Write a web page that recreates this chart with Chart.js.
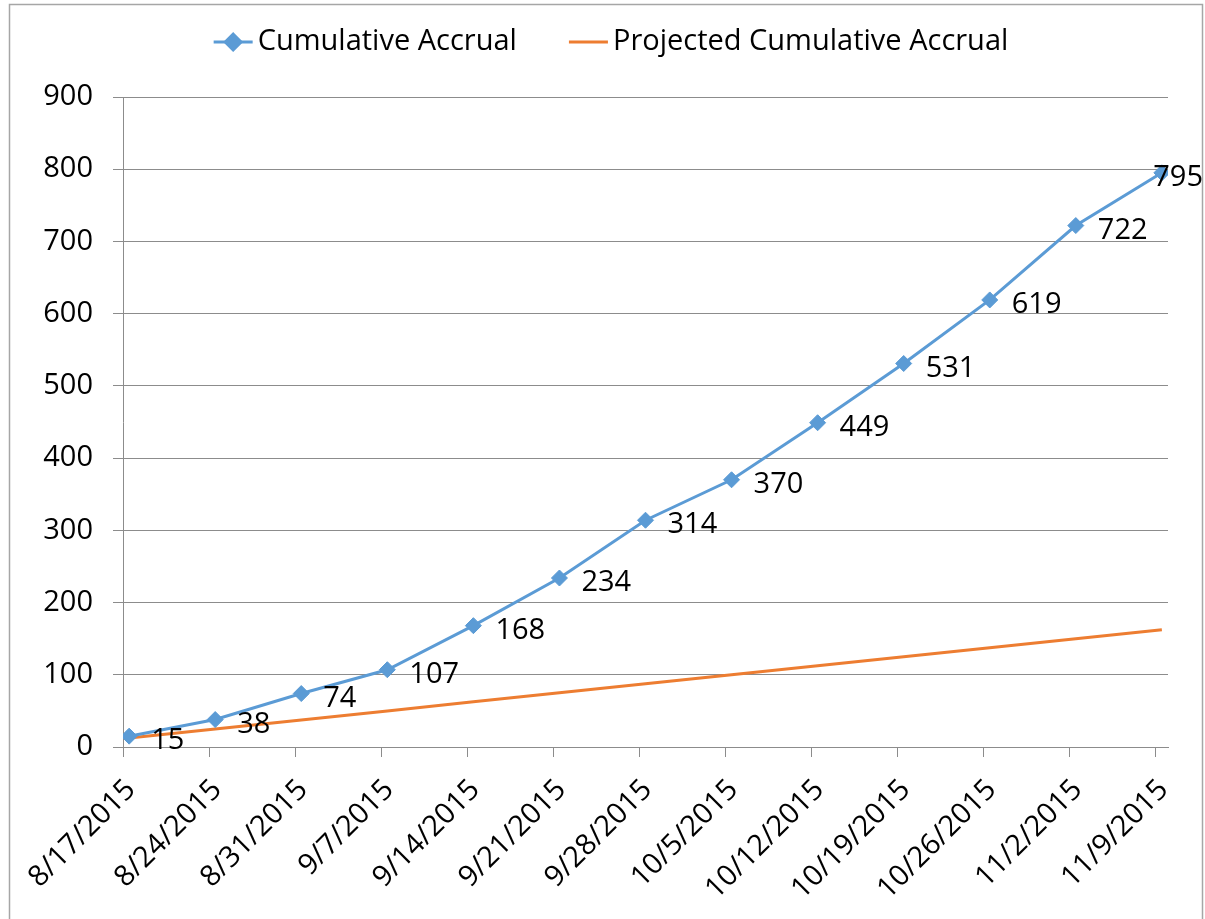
<!DOCTYPE html>
<html>
<head>
<meta charset="utf-8">
<script src="https://cdn.jsdelivr.net/npm/chart.js@4.4.0/dist/chart.umd.min.js"></script>
<style>
    html, body { margin: 0; padding: 0; background: #fff; }
</style>
</head>
<body>
<canvas id="accrual-chart" width="1205" height="919"></canvas>
<script>
// Chart data
const weeks = ['8/17/2015', '8/24/2015', '8/31/2015', '9/7/2015', '9/14/2015', '9/21/2015', '9/28/2015',
    '10/5/2015', '10/12/2015', '10/19/2015', '10/26/2015', '11/2/2015', '11/9/2015'];
const cumulative = [15, 38, 74, 107, 168, 234, 314, 370, 449, 531, 619, 722, 795];
const projected = [12.5, 25, 37.5, 50, 62.5, 75, 87.5, 100, 112.5, 125, 137.5, 150, 162.5];
const yTicks = [0, 100, 200, 300, 400, 500, 600, 700, 800, 900];
const seriesNames = ['Cumulative Accrual', 'Projected Cumulative Accrual'];

const BLUE = '#5B9BD5';
const ORANGE = '#ED7D31';
const GRID = '#8c8c8c';
const FAMILY = 'Open Sans';
const FONT = '29px "Open Sans"';
// date axis: each week is 7 day slots, points sit in the middle of their day
const HALF_DAY = 0.5 / 7;

// white background + outer border like the Excel chart frame
const framePlugin = {
    id: 'frame',
    beforeDraw(chart) {
        const ctx = chart.ctx;
        ctx.save();
        ctx.fillStyle = '#fff';
        ctx.fillRect(0, 0, chart.width, chart.height);
        ctx.strokeStyle = '#a6a6a6';
        ctx.lineWidth = 1.5;
        ctx.strokeRect(9.5, 4.5, 1193, 1000);
        ctx.restore();
    }
};

function diamond(ctx, x, y, r) {
    ctx.beginPath();
    ctx.moveTo(x, y - r);
    ctx.lineTo(x + r, y);
    ctx.lineTo(x, y + r);
    ctx.lineTo(x - r, y);
    ctx.closePath();
    ctx.fill();
}

// legend with line + marker samples
const legendPlugin = {
    id: 'excelLegend',
    afterDraw(chart) {
        const ctx = chart.ctx;
        ctx.save();
        ctx.font = FONT;
        ctx.textBaseline = 'middle';
        const sample = 39, gap = 5, between = 52;
        const w0 = ctx.measureText(seriesNames[0]).width;
        const w1 = ctx.measureText(seriesNames[1]).width;
        const total = sample + gap + w0 + between + sample + gap + w1;
        let x = 611 - total / 2;
        const y = 42;

        // blue sample
        ctx.strokeStyle = BLUE;
        ctx.lineWidth = 3;
        ctx.beginPath();
        ctx.moveTo(x, y);
        ctx.lineTo(x + sample, y);
        ctx.stroke();
        ctx.fillStyle = BLUE;
        diamond(ctx, x + sample / 2, y, 10);
        x += sample + gap;
        ctx.fillStyle = '#000';
        ctx.fillText(seriesNames[0], x, y);
        x += w0 + between;

        // orange sample
        ctx.strokeStyle = ORANGE;
        ctx.beginPath();
        ctx.moveTo(x, y);
        ctx.lineTo(x + sample, y);
        ctx.stroke();
        x += sample + gap;
        ctx.fillText(seriesNames[1], x, y);
        ctx.restore();
    }
};

// value labels right of each marker
const valueLabelPlugin = {
    id: 'valueLabels',
    afterDatasetsDraw(chart) {
        const ctx = chart.ctx;
        const meta = chart.getDatasetMeta(0);
        ctx.save();
        ctx.font = FONT;
        ctx.fillStyle = '#000';
        ctx.textBaseline = 'middle';
        meta.data.forEach((pt, i) => {
            const text = String(cumulative[i]);
            const w = ctx.measureText(text).width;
            let x = pt.x + 22;
            if (x + w > 1203) x = 1203 - w;
            ctx.fillText(text, x, pt.y + 5);
        });
        ctx.restore();
    }
};

new Chart(document.getElementById('accrual-chart'), {
    type: 'line',
    data: {
        datasets: [{
            label: seriesNames[0],
            data: cumulative.map((v, i) => ({ x: i, y: v })),
            borderColor: BLUE,
            backgroundColor: BLUE,
            borderWidth: 3,
            pointStyle: 'rectRot',
            pointRadius: 8,
            pointBorderWidth: 1,
            tension: 0
        }, {
            label: seriesNames[1],
            data: projected.map((v, i) => ({ x: i, y: v })),
            borderColor: ORANGE,
            backgroundColor: ORANGE,
            borderWidth: 3,
            pointRadius: 0,
            tension: 0
        }]
    },
    options: {
        responsive: false,
        animation: false,
        devicePixelRatio: 1,
        layout: {
            padding: { top: 97, right: 37, left: 0, bottom: 0 }
        },
        plugins: {
            legend: { display: false },
            tooltip: { enabled: false }
        },
        scales: {
            x: {
                type: 'linear',
                min: -HALF_DAY,
                max: weeks.length - 1 + HALF_DAY,
                afterBuildTicks: (scale) => {
                    scale.ticks = weeks.map((_, i) => ({ value: i - HALF_DAY }));
                },
                afterFit: (scale) => { scale.height = 172; },
                grid: {
                    drawOnChartArea: false,
                    drawTicks: true,
                    tickLength: 10,
                    color: GRID
                },
                border: { display: true, color: GRID, width: 1 },
                ticks: {
                    autoSkip: false,
                    minRotation: 45,
                    maxRotation: 45,
                    padding: 16,
                    labelOffset: 8,
                    color: '#000',
                    font: { family: FAMILY, size: 29 },
                    callback: (value, index) => weeks[index]
                }
            },
            y: {
                min: 0,
                max: 900,
                afterBuildTicks: (scale) => {
                    scale.ticks = yTicks.map(v => ({ value: v }));
                },
                afterFit: (scale) => { scale.width = 123; },
                grid: {
                    color: GRID,
                    lineWidth: 1,
                    tickLength: 10
                },
                border: { display: true, color: GRID, width: 1 },
                ticks: {
                    padding: 20,
                    color: '#000',
                    font: { family: FAMILY, size: 29 }
                }
            }
        }
    },
    plugins: [framePlugin, legendPlugin, valueLabelPlugin]
});
</script>
</body>
</html>
